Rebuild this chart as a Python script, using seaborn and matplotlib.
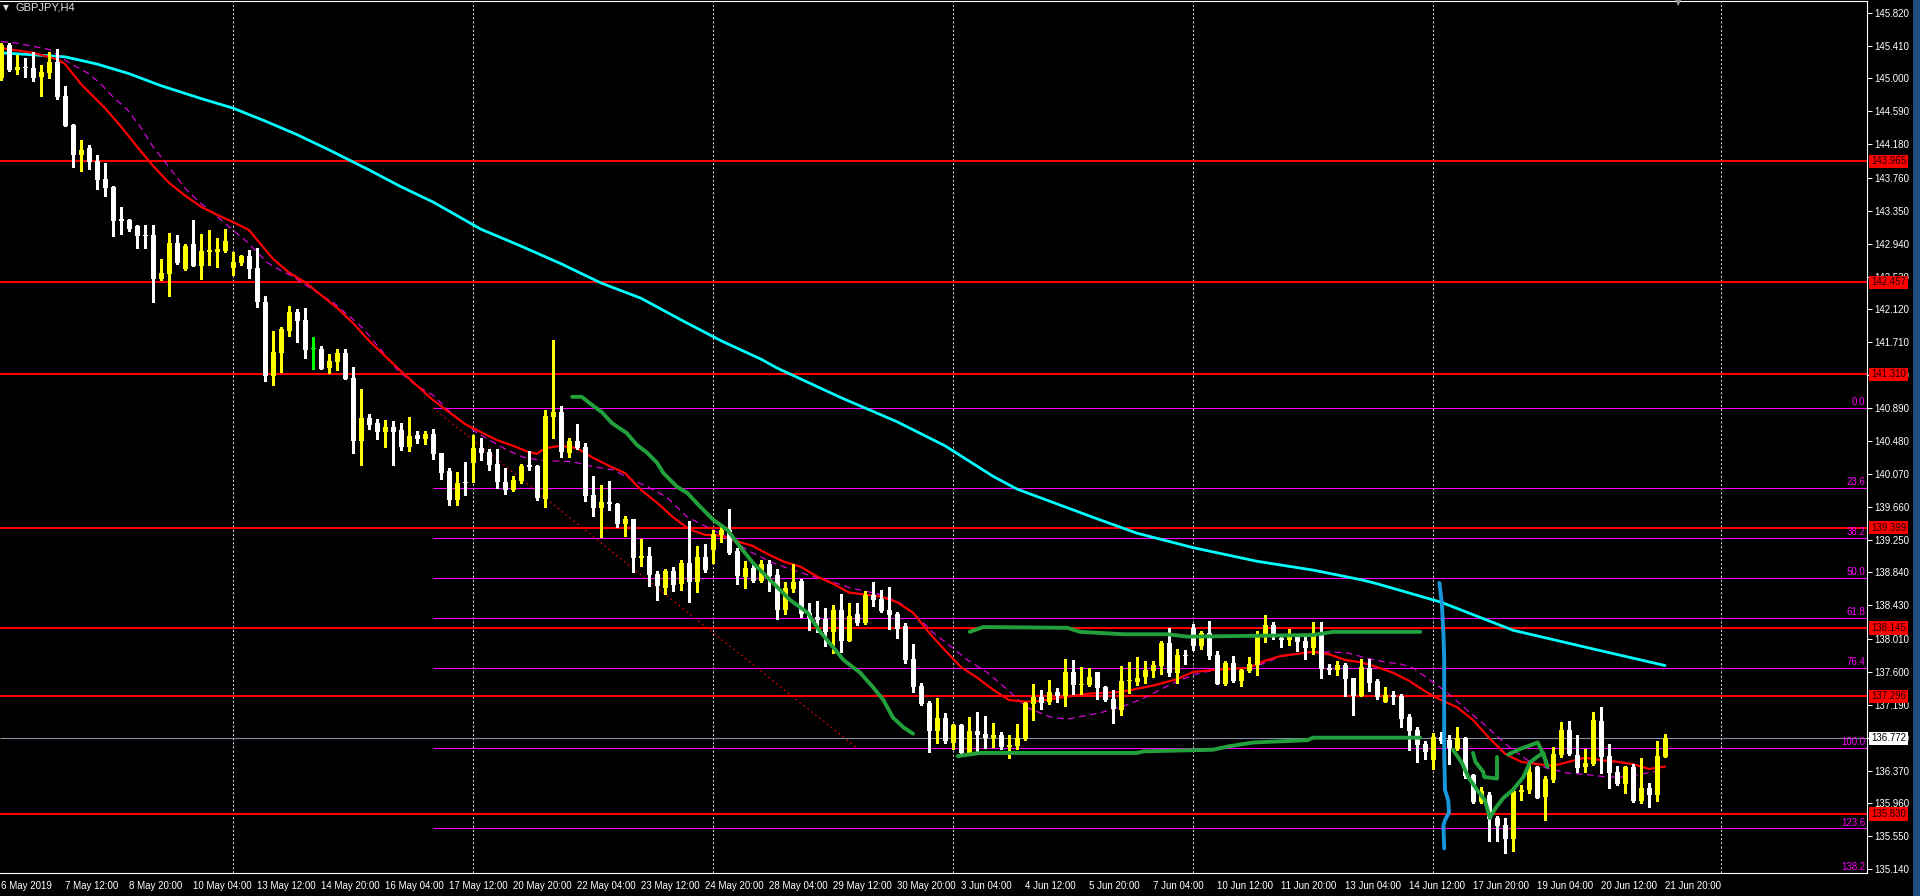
import numpy as np
import pandas as pd
import matplotlib
matplotlib.use("Agg")
import matplotlib.pyplot as plt
import matplotlib.transforms as mtransforms
from matplotlib.patches import Rectangle
import seaborn as sns

# --- GBPJPY H4 bars, one entry per 4h bar ---
opens = [145.00, 145.42, 145.11, 145.14, 145.13, 145.02, 145.07, 145.21, 144.78, 144.42,
         144.05, 144.13, 143.97, 143.75, 143.65, 143.25, 143.24, 143.16, 143.05, 143.05,
         142.50, 142.56, 142.95, 142.63, 142.93, 142.66, 142.84, 142.84, 142.85, 142.64,
         142.70, 142.79, 142.64, 142.21, 141.29, 141.58, 141.85, 142.09, 141.99, 141.63,
         141.63, 141.39, 141.47, 141.58, 141.27, 140.48, 140.77, 140.71, 140.59, 140.66,
         140.62, 140.41, 140.56, 140.51, 140.57, 140.33, 140.11, 139.74, 139.97, 140.21,
         140.39, 140.34, 140.19, 139.97, 139.87, 139.98, 140.18, 140.17, 139.76, 140.78,
         140.84, 140.33, 140.48, 140.41, 139.81, 139.65, 139.72, 139.70, 139.45, 139.51,
         139.02, 139.05, 138.82, 138.65, 138.86, 138.70, 138.96, 138.72, 139.03, 139.12,
         139.31, 139.37, 139.11, 138.79, 138.89, 138.74, 138.94, 138.81, 138.37, 138.64,
         138.74, 138.34, 138.29, 138.26, 138.10, 138.37, 137.99, 138.32, 138.21, 138.56,
         138.51, 138.37, 138.32, 138.17, 137.76, 137.43, 137.21, 136.86, 137.03, 136.71,
         136.94, 136.59, 136.86, 136.83, 136.78, 136.81, 136.67, 136.68, 136.77, 137.20,
         137.29, 137.23, 137.35, 137.30, 137.60, 137.44, 137.44, 137.60, 137.41, 137.26,
         137.13, 137.49, 137.48, 137.54, 137.61, 137.68, 137.96, 137.59, 137.81, 138.15,
         137.92, 138.09, 137.81, 137.45, 137.71, 137.49, 137.61, 137.69, 138.06, 138.19,
         138.02, 138.00, 138.06, 137.99, 137.90, 138.06, 137.65, 137.63, 137.69, 137.53,
         137.30, 137.65, 137.49, 137.23, 137.31, 137.30, 137.04, 136.88, 136.70, 136.50,
         136.79, 136.75, 136.64, 136.78, 136.32, 135.98, 136.07, 135.78, 135.69, 135.52,
         136.10, 136.13, 136.42, 136.04, 136.25, 136.57, 136.88, 136.57, 136.42, 136.45,
         136.99, 136.55, 136.35, 136.20, 136.42, 135.99, 136.15, 136.07, 136.54]
highs = [145.44, 145.44, 145.29, 145.26, 145.33, 145.17, 145.33, 145.37, 144.91, 144.43,
         144.23, 144.17, 144.05, 143.95, 143.66, 143.40, 143.25, 143.17, 143.17, 143.17,
         142.75, 143.07, 143.05, 142.94, 143.24, 143.06, 143.11, 143.01, 143.12, 142.84,
         142.80, 142.86, 142.88, 142.29, 141.85, 141.90, 142.16, 142.13, 142.14, 141.78,
         141.67, 141.57, 141.63, 141.63, 141.40, 141.13, 140.82, 140.76, 140.74, 140.73,
         140.71, 140.78, 140.61, 140.61, 140.63, 140.33, 140.14, 140.09, 140.22, 140.56,
         140.52, 140.38, 140.38, 140.14, 140.04, 140.19, 140.36, 140.18, 140.87, 141.74,
         140.92, 140.52, 140.69, 140.46, 140.04, 139.93, 139.98, 139.71, 139.55, 139.51,
         139.26, 139.16, 138.86, 138.88, 138.91, 139.00, 139.48, 139.17, 139.20, 139.37,
         139.41, 139.63, 139.15, 138.98, 138.94, 139.00, 139.00, 138.88, 138.72, 138.95,
         138.76, 138.46, 138.49, 138.40, 138.44, 138.57, 138.46, 138.46, 138.61, 138.72,
         138.62, 138.66, 138.35, 138.21, 137.95, 137.46, 137.24, 137.28, 137.09, 136.95,
         136.95, 137.04, 137.10, 137.05, 136.96, 136.85, 136.81, 136.95, 137.23, 137.45,
         137.38, 137.50, 137.40, 137.76, 137.75, 137.66, 137.65, 137.60, 137.43, 137.38,
         137.68, 137.73, 137.79, 137.74, 137.74, 137.99, 138.15, 137.89, 137.87, 138.20,
         138.11, 138.24, 137.86, 137.74, 137.80, 137.64, 137.79, 138.11, 138.31, 138.22,
         138.07, 138.14, 138.07, 138.04, 138.22, 138.22, 137.70, 137.74, 137.71, 137.53,
         137.76, 137.76, 137.51, 137.41, 137.36, 137.33, 137.08, 136.91, 136.74, 136.84,
         136.85, 136.81, 136.91, 136.79, 136.33, 136.17, 136.10, 135.80, 135.78, 136.15,
         136.19, 136.48, 136.43, 136.30, 136.67, 136.98, 136.99, 136.81, 136.64, 137.10,
         137.16, 136.70, 136.43, 136.43, 136.45, 136.53, 136.22, 136.74, 136.82]
lows = [144.98, 145.09, 145.06, 145.02, 144.97, 144.78, 145.01, 144.75, 144.41, 143.90,
        143.85, 143.87, 143.62, 143.54, 143.03, 143.06, 143.10, 142.89, 142.88, 142.21,
        142.49, 142.29, 142.69, 142.61, 142.66, 142.50, 142.68, 142.65, 142.84, 142.55,
        142.68, 142.51, 142.15, 141.23, 141.18, 141.34, 141.79, 141.72, 141.52, 141.38,
        141.38, 141.33, 141.37, 141.25, 140.33, 140.18, 140.63, 140.51, 140.41, 140.18,
        140.37, 140.36, 140.46, 140.44, 140.26, 140.01, 139.68, 139.68, 139.81, 139.97,
        140.24, 140.12, 139.89, 139.82, 139.85, 139.96, 140.12, 139.74, 139.66, 140.52,
        140.28, 140.28, 140.38, 139.73, 139.55, 139.28, 139.62, 139.41, 139.30, 138.85,
        138.92, 138.67, 138.50, 138.57, 138.61, 138.62, 138.47, 138.60, 138.85, 138.96,
        139.22, 139.07, 138.70, 138.65, 138.72, 138.72, 138.61, 138.26, 138.32, 138.60,
        138.29, 138.12, 138.10, 137.92, 137.84, 137.85, 137.98, 138.19, 138.20, 138.42,
        138.35, 138.14, 138.02, 137.71, 137.35, 137.19, 136.60, 136.71, 136.71, 136.64,
        136.58, 136.58, 136.60, 136.65, 136.67, 136.64, 136.53, 136.64, 136.75, 137.00,
        137.14, 137.20, 137.23, 137.18, 137.33, 137.33, 137.43, 137.26, 137.24, 136.96,
        137.06, 137.34, 137.44, 137.46, 137.54, 137.58, 137.55, 137.46, 137.70, 137.87,
        137.89, 137.76, 137.45, 137.44, 137.48, 137.43, 137.60, 137.56, 137.97, 138.01,
        137.91, 137.94, 137.86, 137.76, 137.82, 137.53, 137.58, 137.56, 137.30, 137.06,
        137.30, 137.36, 137.26, 137.23, 137.20, 136.91, 136.63, 136.48, 136.52, 136.39,
        136.71, 136.45, 136.63, 136.28, 135.97, 135.97, 135.49, 135.49, 135.34, 135.37,
        136.00, 136.09, 136.03, 135.75, 136.23, 136.54, 136.57, 136.35, 136.35, 136.44,
        136.34, 136.15, 136.19, 136.09, 135.98, 135.97, 135.92, 135.99, 136.54]
closes = [145.42, 145.11, 145.14, 145.13, 145.01, 145.08, 145.21, 144.77, 144.41, 144.05,
          144.11, 143.96, 143.74, 143.64, 143.22, 143.22, 143.12, 143.04, 143.03, 142.50,
          142.58, 142.95, 142.70, 142.91, 142.66, 142.85, 142.86, 142.87, 142.97, 142.71,
          142.79, 142.63, 142.21, 141.29, 141.59, 141.87, 142.09, 141.98, 141.62, 141.63,
          141.38, 141.48, 141.58, 141.25, 140.48, 140.77, 140.68, 140.59, 140.66, 140.59,
          140.41, 140.54, 140.51, 140.57, 140.32, 140.08, 139.74, 139.96, 139.95, 140.39,
          140.33, 140.18, 139.97, 139.87, 139.99, 140.17, 140.16, 139.77, 140.79, 140.84,
          140.34, 140.48, 140.39, 139.80, 139.65, 139.72, 139.70, 139.45, 139.51, 139.02,
          139.05, 138.81, 138.67, 138.86, 138.69, 138.96, 138.72, 139.03, 138.87, 139.32,
          139.37, 139.08, 138.80, 138.89, 138.74, 138.94, 138.80, 138.37, 138.65, 138.72,
          138.32, 138.27, 138.25, 138.10, 138.37, 137.99, 138.30, 138.21, 138.56, 138.50,
          138.36, 138.31, 138.14, 137.75, 137.41, 137.20, 136.86, 137.03, 136.74, 136.94,
          136.59, 136.86, 136.81, 136.78, 136.81, 136.67, 136.69, 136.78, 137.21, 137.29,
          137.21, 137.35, 137.30, 137.60, 137.44, 137.45, 137.54, 137.40, 137.25, 137.14,
          137.49, 137.50, 137.53, 137.63, 137.69, 137.96, 137.59, 137.81, 137.80, 137.92,
          138.09, 137.80, 137.45, 137.71, 137.49, 137.63, 137.70, 138.07, 138.19, 138.06,
          138.00, 138.06, 137.97, 137.90, 138.06, 137.64, 137.63, 137.69, 137.51, 137.30,
          137.66, 137.46, 137.29, 137.31, 137.29, 137.01, 136.86, 136.69, 136.60, 136.79,
          136.74, 136.65, 136.78, 136.30, 135.98, 136.12, 135.77, 135.68, 135.52, 136.12,
          136.13, 136.35, 136.03, 136.27, 136.58, 136.88, 136.58, 136.40, 136.47, 137.00,
          136.54, 136.34, 136.20, 136.42, 135.99, 136.15, 136.07, 136.55, 136.772]

time_labels = ["6 May 2019", "7 May 12:00", "8 May 20:00", "10 May 04:00", "13 May 12:00",
               "14 May 20:00", "16 May 04:00", "17 May 12:00", "20 May 20:00", "22 May 04:00",
               "23 May 12:00", "24 May 20:00", "28 May 04:00", "29 May 12:00", "30 May 20:00",
               "3 Jun 04:00", "4 Jun 12:00", "5 Jun 20:00", "7 Jun 04:00", "10 Jun 12:00",
               "11 Jun 20:00", "13 Jun 04:00", "14 Jun 12:00", "17 Jun 20:00", "19 Jun 04:00",
               "20 Jun 12:00", "21 Jun 20:00"]
bars_per_label = 8

price_ticks = [145.820, 145.410, 145.000, 144.590, 144.180, 143.760, 143.350, 142.940, 142.530,
               142.120, 141.710, 141.300, 140.890, 140.480, 140.070, 139.660, 139.250, 138.840,
               138.430, 138.010, 137.600, 137.190, 136.780, 136.370, 135.960, 135.550, 135.140]

level_prices = [143.965, 142.457, 141.310, 139.399, 138.145, 137.296, 135.830]
bid_price = 136.772

fib_prices = [140.890, 139.890, 139.270, 138.770, 138.270, 137.650, 136.650, 135.650, 135.030]
fib_labels = ["0.0", "23.6", "38.2", "50.0", "61.8", "76.4", "100.0", "123.6", "138.2"]
fib_start_bar, fib_end_bar = 54, 107

week_grid_bars = [29, 59, 89, 119, 149, 179, 215]

# slow MA (cyan)
slow_ma_bar = [0, 8, 12, 16, 20, 25, 29, 33, 37, 41, 46, 50, 54, 60, 65, 70, 75, 80, 85, 90,
               95, 97, 105, 112, 118, 124, 127, 137, 142, 149, 157, 164, 170, 172, 180, 189,
               198, 208]
slow_ma_val = [145.32, 145.27, 145.18, 145.06, 144.91, 144.75, 144.63, 144.47, 144.30, 144.11,
               143.86, 143.65, 143.46, 143.12, 142.91, 142.69, 142.45, 142.26, 141.99, 141.73,
               141.50, 141.39, 141.02, 140.72, 140.42, 140.04, 139.88, 139.51, 139.33, 139.15,
               138.98, 138.87, 138.75, 138.70, 138.47, 138.12, 137.91, 137.68]

# fast MA (red)
fast_ma_bar = [0, 4, 7, 8, 10, 13, 15, 17, 19, 21, 23, 25, 27, 29, 31, 32, 34, 36, 38, 40,
               42, 44, 46, 48, 50, 52, 54, 56, 58, 60, 62, 64, 66, 67, 68, 70, 72, 74, 76, 78,
               80, 82, 84, 86, 88, 90, 92, 94, 96, 98, 100, 102, 104, 106, 110, 112, 114, 116,
               118, 120, 122, 124, 126, 128, 130, 133, 136, 140, 144, 147, 149, 152, 156, 158,
               160, 164, 166, 168, 170, 172, 174, 176, 178, 180, 182, 184, 186, 188, 190, 192,
               194, 196, 198, 200, 202, 204, 206, 208]
fast_ma_val = [145.38, 145.32, 145.24, 145.18, 144.93, 144.63, 144.40, 144.15, 143.91, 143.70,
               143.54, 143.40, 143.30, 143.21, 143.11, 142.99, 142.75, 142.58, 142.46, 142.30,
               142.14, 141.95, 141.73, 141.54, 141.35, 141.17, 140.99, 140.84, 140.69, 140.59,
               140.49, 140.42, 140.34, 140.32, 140.39, 140.42, 140.39, 140.27, 140.17, 140.08,
               139.87, 139.71, 139.53, 139.38, 139.31, 139.30, 139.23, 139.17, 139.06, 138.97,
               138.91, 138.79, 138.70, 138.59, 138.54, 138.47, 138.34, 138.09, 137.87, 137.66,
               137.53, 137.38, 137.25, 137.23, 137.24, 137.29, 137.33, 137.35, 137.43, 137.51,
               137.60, 137.63, 137.65, 137.74, 137.80, 137.85, 137.82, 137.75, 137.72, 137.66,
               137.59, 137.49, 137.36, 137.25, 137.16, 137.00, 136.78, 136.58, 136.48, 136.45,
               136.43, 136.48, 136.53, 136.50, 136.48, 136.45, 136.39, 136.42]

# dashed MA (magenta)
dash_ma_bar = [0, 2, 6.1, 8.6, 10.8, 12.4, 14, 15.8, 17.4, 19, 20.8, 23.2, 24.9, 26.5, 29,
               30.8, 33.2, 34.9, 36.5, 39, 41.5, 43.6, 45.2, 47.8, 49.5, 51.5, 54, 56.5, 59.5,
               61.1, 63.2, 65.2, 67.4, 71.5, 74, 76.5, 79, 80.8, 83.2, 85.8, 88.2, 90.8, 94,
               96.5, 99, 101.5, 104, 106.1, 110.2, 112.4, 114.5, 116.5, 118.2, 120.8, 123.2,
               125.8, 128.2, 131.1, 133.2, 135.8, 137.4, 140.8, 143.2, 144.9, 147.4, 149.9,
               152.4, 154.9, 157.4, 159.9, 163.2, 165.8, 168.2, 170.8, 173.2, 174.9, 176.5,
               178.2, 180.8, 183.2, 185.8, 188.2, 190.8, 193.2, 195.8, 198.2, 200.8, 203.2,
               205.8, 207.8]
dash_ma_val = [145.46, 145.44, 145.36, 145.19, 145.07, 144.94, 144.77, 144.61, 144.40, 144.15,
               143.92, 143.61, 143.45, 143.32, 143.11, 142.96, 142.71, 142.61, 142.53, 142.36,
               142.21, 142.03, 141.89, 141.58, 141.37, 141.20, 141.05, 140.81, 140.58, 140.49,
               140.37, 140.28, 140.24, 140.22, 140.16, 140.12, 139.99, 139.91, 139.78, 139.53,
               139.41, 139.28, 139.08, 138.96, 138.87, 138.79, 138.72, 138.65, 138.56, 138.46,
               138.29, 138.09, 137.96, 137.75, 137.60, 137.38, 137.16, 137.04, 137.01, 137.06,
               137.09, 137.19, 137.29, 137.38, 137.50, 137.59, 137.63, 137.65, 137.69, 137.79,
               137.84, 137.85, 137.84, 137.77, 137.72, 137.70, 137.65, 137.53, 137.34, 137.13,
               136.91, 136.69, 136.50, 136.40, 136.34, 136.32, 136.29, 136.29, 136.34, 136.38]

# hand drawn annotations (bar, price)
green_trend_bar = [71.4, 72.6, 73.6, 75.1, 76.4, 78.2, 79.5, 80.8, 82.0, 82.8, 84.5, 85.8, 87.4,
                   89.0, 90.8, 92.4, 94.0, 96.5, 98.6, 100.8, 102.4, 104.0, 105.3, 107.4, 109.0,
                   110.3, 111.5, 112.8, 114.0]
green_trend_val = [141.03, 141.03, 140.95, 140.84, 140.70, 140.58, 140.43, 140.33, 140.21, 140.08,
                   139.91, 139.83, 139.66, 139.50, 139.37, 139.16, 138.96, 138.71, 138.50, 138.34,
                   138.10, 137.91, 137.75, 137.59, 137.41, 137.25, 137.03, 136.91, 136.83]
green_top_bar = [121.1, 122.8, 133.3, 134.9, 140.3, 145.8, 148.3, 164.0, 166.5, 177.4]
green_top_val = [138.10, 138.16, 138.15, 138.10, 138.07, 138.07, 138.04, 138.06, 138.10, 138.10]
green_low_bar = [119.6, 122.4, 142.0, 142.8, 151.5, 153.3, 156.5, 163.3, 164.0, 177.4]
green_low_val = [136.55, 136.59, 136.59, 136.61, 136.63, 136.67, 136.72, 136.75, 136.78, 136.78]
green_v_bar = [181.5, 182.6, 183.4, 184.5, 185.5, 186.1, 186.8, 187.8, 189.0, 190.3, 191.1,
               192.0, 192.8, 193.3]
green_v_val = [136.63, 136.47, 136.29, 136.13, 136.00, 135.78, 135.90, 136.03, 136.13, 136.29,
               136.47, 136.54, 136.59, 136.42]
green_arc_bar = [188.4, 189.9, 192.1, 192.8, 193.3]
green_arc_val = [136.57, 136.64, 136.72, 136.57, 136.42]
green_tick_bar = [184.0, 184.3, 185.3, 185.4, 187.0, 187.0]
green_tick_val = [136.59, 136.48, 136.35, 136.29, 136.27, 136.54]
blue_bar = [179.8, 180.1, 180.3, 180.4, 180.4, 180.5, 180.9, 181.0, 180.5, 180.3, 180.4]
blue_val = [138.71, 138.46, 138.09, 137.75, 136.60, 136.13, 136.00, 135.85, 135.75, 135.69, 135.40]

# ---------------------------------------------------------------------------
W, H = 1920, 896
PX = 8.0                      # pixels per bar
ax_right_px, ax_top_px, ax_bot_px = 1867, 1, 873
x_lo = -1 / PX
x_hi = x_lo + ax_right_px / PX
y_lo, y_hi = 135.093, 145.966

sns.set_style("dark", {"axes.facecolor": "black", "figure.facecolor": "black"})
plt.rcParams["font.family"] = ["Liberation Sans", "DejaVu Sans"]

fig = plt.figure(figsize=(W / 100, H / 100), dpi=100, facecolor="black")
ax = fig.add_axes([0, 1 - ax_bot_px / H, ax_right_px / W, (ax_bot_px - ax_top_px) / H])
ax.set_facecolor("black")
ax.grid(False)

# weekly grid
ax.vlines(week_grid_bars, y_lo, y_hi, colors="#d8d8d8", linestyles=(0, (2, 2)),
          linewidth=0.75, zorder=1)

# support / resistance lines
ax.hlines(level_prices, x_lo, x_hi, colors="#ff0000", linewidth=1.5, zorder=2)

# fibonacci levels
ax.hlines(fib_prices, fib_start_bar, x_hi, colors="#ff00ff", linewidth=0.75, zorder=2)
for p, lab in zip(fib_prices, fib_labels):
    ax.text(x_hi - 0.2, max(p, y_lo) + 0.01, lab, color="#ff00ff", fontsize=7,
            ha="right", va="bottom", zorder=3)
sns.lineplot(x=[fib_start_bar, fib_end_bar], y=[fib_prices[0], fib_prices[6]], ax=ax,
             color="#ff0000", linewidth=0.8, linestyle=(0, (1.5, 3)), zorder=2)

# bid line
ax.hlines([bid_price], x_lo, x_hi, colors="#8090a0", linewidth=0.8, zorder=2)

# moving averages
sns.lineplot(x=slow_ma_bar, y=slow_ma_val, ax=ax, color="#00ffff", linewidth=2.0,
             estimator=None, sort=False, zorder=3)
sns.lineplot(x=dash_ma_bar, y=dash_ma_val, ax=ax, color="#ee00ee", linewidth=0.8,
             linestyle=(0, (6, 4)), estimator=None, sort=False, zorder=3)
sns.lineplot(x=fast_ma_bar, y=fast_ma_val, ax=ax, color="#ff0000", linewidth=1.6,
             estimator=None, sort=False, zorder=3)

# candles
df = pd.DataFrame({"open": opens, "high": highs, "low": lows, "close": closes})
df["bar"] = np.arange(len(df))
colors = np.where(df["close"] > df["open"], "#ffff00",
                  np.where(df["close"] < df["open"], "#ffffff", "#00ff00"))
ax.vlines(df["bar"], df["low"], df["high"], colors=colors, linewidth=0.75,
          antialiased=False, zorder=5)
body_lo = np.minimum(df["open"], df["close"])
body_h = np.maximum((df["close"] - df["open"]).abs(), 0.0125)
ax.bar(df["bar"], body_h, bottom=body_lo, width=5 / PX, color=colors, linewidth=0,
       antialiased=False, zorder=6)

# hand drawn marks
for bx, by in [(green_trend_bar, green_trend_val), (green_top_bar, green_top_val),
               (green_low_bar, green_low_val), (green_v_bar, green_v_val),
               (green_arc_bar, green_arc_val), (green_tick_bar, green_tick_val)]:
    sns.lineplot(x=bx, y=by, ax=ax, color="#22a03c", linewidth=2.8, estimator=None,
                 sort=False, zorder=7, solid_capstyle="round", solid_joinstyle="round")
sns.lineplot(x=blue_bar, y=blue_val, ax=ax, color="#1a96dc", linewidth=2.8, estimator=None,
             sort=False, zorder=7, solid_capstyle="round")

ax.set_xlim(x_lo, x_hi)
ax.set_ylim(y_lo, y_hi)
ax.set_xlabel("")
ax.set_ylabel("")

# axes / ticks
ax.spines["left"].set_visible(False)
for side in ["top", "right", "bottom"]:
    ax.spines[side].set_color("white")
    ax.spines[side].set_linewidth(0.8)

ax.yaxis.tick_right()
ax.set_yticks(price_ticks)
ax.set_yticklabels([f"{p:.3f}" for p in price_ticks])
ax.tick_params(axis="y", colors="white", length=3.5, width=0.75, pad=1.5, labelsize=7)

ax.set_xticks([i * bars_per_label for i in range(len(time_labels))])
ax.set_xticklabels(time_labels)
ax.tick_params(axis="x", colors="white", length=3.5, width=0.75, pad=2, labelsize=7)
for t in ax.get_xticklabels():
    t.set_ha("left")

# price boxes on the axis (they sit over the tick labels, like the terminal does)
trans = mtransforms.blended_transform_factory(ax.transAxes, ax.transData)
for p in level_prices:
    ax.text(1.0 + 4 / ax_right_px, p, f"{p:.3f}", transform=trans, color="#200000",
            fontsize=7, ha="left", va="center", clip_on=False, zorder=10,
            bbox=dict(boxstyle="square,pad=0.18", fc="#ff0000", ec="none"))
ax.text(1.0 + 4 / ax_right_px, bid_price, f"{bid_price:.3f}", transform=trans, color="black",
        fontsize=7, ha="left", va="center", clip_on=False, zorder=10,
        bbox=dict(boxstyle="square,pad=0.18", fc="white", ec="none"))

# title and markers
fig.text(3 / W, 1 - 8 / H, "\u25bc", color="#e0e0e0", fontsize=5.5, va="center",
         family="DejaVu Sans")
fig.text(15 / W, 1 - 8 / H, "GBPJPY,H4", color="#e0e0e0", fontsize=8, va="center")
fig.text(1678 / W, 1 - 3 / H, "\u25bc", color="#909090", fontsize=6, ha="center",
         va="center", family="DejaVu Sans")
fig.add_artist(Rectangle((1913 / W, 0), 7 / W, 1, transform=fig.transFigure,
                         facecolor="#1f4f7f", edgecolor="none"))

fig.savefig("out.png", dpi=100, facecolor="black")
